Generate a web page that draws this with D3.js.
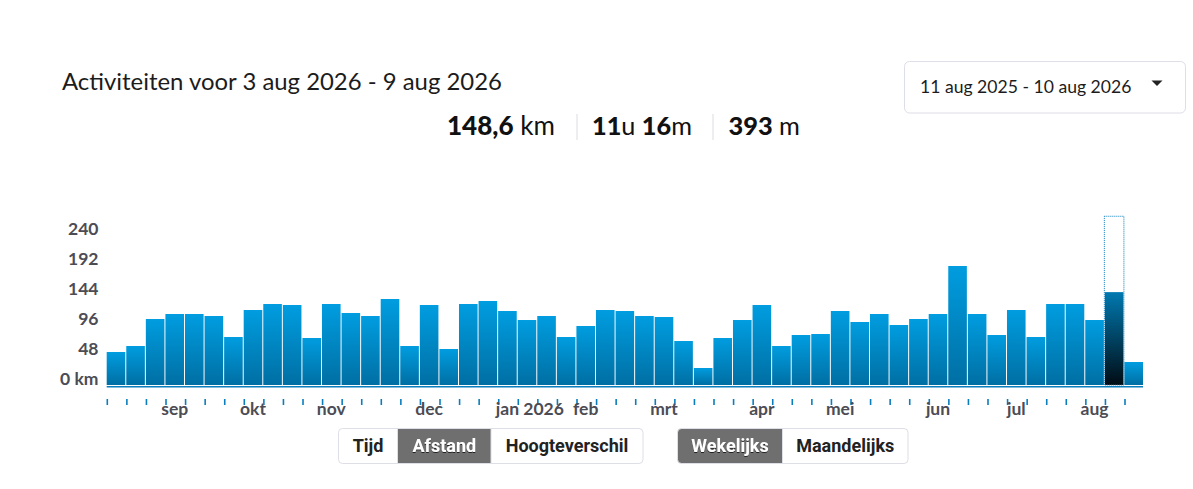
<!DOCTYPE html>
<html>
<head>
<meta charset="utf-8">
<script src="https://cdn.jsdelivr.net/npm/d3@7"></script>
<style>
  html, body { margin: 0; padding: 0; background: #fff; }
  svg { display: block; }
</style>
</head>
<body>
<script>
// weekly distance (km), week starting Mon 11 aug 2025 up to Mon 10 aug 2026
const weekStarts = d3.timeMonday.range(new Date(2025, 7, 11), new Date(2026, 7, 11));
const distances = [
    52.8, 62.4, 105.6, 113.6, 113.6, 110.4, 76.8, 120, 129.6, 128,
    75.2, 129.6, 115.2, 110.4, 137.6, 62.4, 128, 57.6, 129.6, 134.4,
    118.4, 104, 110.4, 76.8, 94.4, 120, 118.4, 110.4, 108.8, 70.4,
    27.2, 75.2, 104, 128, 62.4, 80, 81.6, 118.4, 100.8, 113.6,
    96, 105.6, 113.6, 190.4, 113.6, 80, 120, 76.8, 129.6, 129.6,
    104, 148.6, 36.8
];
const selectedWeek = 51; // 3 aug 2026 - 9 aug 2026

const yTicks = [0, 48, 96, 144, 192, 240];
const monthStarts = [
    new Date(2025, 8, 1), new Date(2025, 9, 1), new Date(2025, 10, 1), new Date(2025, 11, 1),
    new Date(2026, 0, 1), new Date(2026, 1, 1), new Date(2026, 2, 1), new Date(2026, 3, 1),
    new Date(2026, 4, 1), new Date(2026, 5, 1), new Date(2026, 6, 1), new Date(2026, 7, 1)
];
const monthLabels = ["sep", "okt", "nov", "dec", "jan 2026", "feb", "mrt", "apr", "mei", "jun", "jul", "aug"];

const statParts = [
    [["148,6", true], [" km", false]],
    [["11", true], ["u ", false], ["16", true], ["m", false]],
    [["393", true], [" m", false]]
];
const metricButtons = ["Tijd", "Afstand", "Hoogteverschil"];
const periodButtons = ["Wekelijks", "Maandelijks"];

const width = 1193, height = 489;

const svg = d3.select("body").append("svg")
    .attr("width", width)
    .attr("height", height);

const defs = svg.append("defs");

const barGrad = defs.append("linearGradient")
    .attr("id", "barGrad").attr("x1", 0).attr("y1", 0).attr("x2", 0).attr("y2", 1);
barGrad.append("stop").attr("offset", "0%").attr("stop-color", "#009de0");
barGrad.append("stop").attr("offset", "100%").attr("stop-color", "#006fa3");

const selGrad = defs.append("linearGradient")
    .attr("id", "selGrad").attr("x1", 0).attr("y1", 0).attr("x2", 0).attr("y2", 1);
selGrad.append("stop").attr("offset", "0%").attr("stop-color", "#0079b0");
selGrad.append("stop").attr("offset", "100%").attr("stop-color", "#000c14");

const shadow = defs.append("filter").attr("id", "txtShadow")
    .attr("x", "-10%").attr("y", "-20%").attr("width", "120%").attr("height", "150%");
shadow.append("feDropShadow")
    .attr("dx", 0).attr("dy", 1).attr("stdDeviation", 0.6)
    .attr("flood-color", "#000").attr("flood-opacity", 0.7);

// shrink / grow a text so it fills a given width
function fitWidth(sel, target) {
    const node = sel.node();
    const len = node.getComputedTextLength();
    const fs = parseFloat(sel.attr("font-size"));
    sel.attr("font-size", (fs * target / len).toFixed(2));
    return fs * target / len;
}

// ---- header ----
const title = svg.append("text")
    .attr("x", 62)
    .attr("y", 90)
    .attr("font-family", "Lato")
    .attr("font-size", 21)
    .attr("fill", "#1c1c1c")
    .text("Activiteiten voor 3 aug 2026 - 9 aug 2026");
fitWidth(title, 440);

const statX = [447, 592, 728.5];
const statW = [108, 100, 71.5];
statParts.forEach((parts, i) => {
    const t = svg.append("text")
        .attr("x", statX[i])
        .attr("y", 135)
        .attr("font-family", "Lato")
        .attr("font-size", 25)
        .attr("fill", "#111");
    parts.forEach(p => {
        t.append("tspan")
            .attr("font-weight", p[1] ? 900 : 400)
            .text(p[0]);
    });
    fitWidth(t, statW[i]);
});
[577, 713].forEach(sx => {
    svg.append("line")
        .attr("x1", sx).attr("x2", sx)
        .attr("y1", 114).attr("y2", 140)
        .attr("stroke", "#dcdce2")
        .attr("stroke-width", 1);
});

// date range dropdown
svg.append("rect")
    .attr("x", 904.5).attr("y", 61.5)
    .attr("width", 281).attr("height", 51.5)
    .attr("rx", 5)
    .attr("fill", "#fff")
    .attr("stroke", "#dedee6");
const ddText = svg.append("text")
    .attr("x", 920)
    .attr("y", 93)
    .attr("font-family", "Lato")
    .attr("font-size", 17)
    .attr("fill", "#1c1c1c")
    .text("11 aug 2025 - 10 aug 2026");
fitWidth(ddText, 211.5);
svg.append("path")
    .attr("d", "M1151.5,80.5 L1162.5,80.5 L1157,86 Z")
    .attr("fill", "#222");

// ---- chart ----
const x = d3.scaleBand()
    .domain(weekStarts)
    .range([106.7, 1143])
    .paddingInner(0.05)
    .paddingOuter(0);

const y = d3.scaleLinear()
    .domain([0, 240])
    .range([385, 235]);

const chartTop = 270; // height of the selection frame, in km

svg.append("g")
    .selectAll("rect")
    .data(distances)
    .join("rect")
    .attr("x", (d, i) => x(weekStarts[i]))
    .attr("y", d => y(d))
    .attr("width", x.bandwidth())
    .attr("height", d => y(0) - y(d))
    .attr("fill", (d, i) => i === selectedWeek ? "url(#selGrad)" : "url(#barGrad)");

// selection frame
svg.append("rect")
    .attr("x", x(weekStarts[selectedWeek]) - 0.5)
    .attr("y", y(chartTop))
    .attr("width", x.step())
    .attr("height", y(0) - y(chartTop))
    .attr("fill", "none")
    .attr("stroke", "#0a7dbd")
    .attr("stroke-width", 1)
    .attr("stroke-dasharray", "1,1");

// baseline
svg.append("line")
    .attr("x1", x.range()[0]).attr("x2", x.range()[1])
    .attr("y1", y(0) + 1.7).attr("y2", y(0) + 1.7)
    .attr("stroke", "#0a7dbd")
    .attr("stroke-width", 1.4);

// y axis labels
const yAxis = svg.append("g")
    .attr("transform", "translate(98.5,0)")
    .call(d3.axisLeft(y)
        .tickValues(yTicks)
        .tickSize(0)
        .tickPadding(0)
        .tickFormat(d => d === 0 ? "0 km" : d));
yAxis.select(".domain").remove();
yAxis.selectAll("text")
    .attr("dy", "-0.02em")
    .attr("font-family", "Lato")
    .attr("font-weight", 700)
    .attr("font-size", 17.5)
    .attr("fill", "#4c4c55");

// week ticks
svg.append("g")
    .selectAll("line")
    .data(weekStarts)
    .join("line")
    .attr("x1", d => x(d) + 0.6)
    .attr("x2", d => x(d) + 0.6)
    .attr("y1", 399)
    .attr("y2", 405)
    .attr("stroke", "#0a7dbd")
    .attr("stroke-width", 1.6);

// month labels, centred on the week that holds the 1st of the month
const monthG = svg.append("g");
monthStarts.forEach((m, i) => {
    const cx = x(d3.timeMonday.floor(m)) + x.bandwidth() / 2;
    const label = monthLabels[i];
    const t = monthG.append("text")
        .attr("y", 415)
        .attr("font-family", "Lato")
        .attr("font-weight", 700)
        .attr("font-size", 17.5)
        .attr("fill", "#4c4c55")
        .text(label.split(" ")[0]);
    if (label.includes(" ")) {
        // keep the month word on its week, the year runs on to the right
        const w = t.node().getComputedTextLength();
        t.attr("x", cx - w / 2).attr("text-anchor", "start").text(label);
    } else {
        t.attr("x", cx).attr("text-anchor", "middle");
    }
});

// ---- toggle buttons ----
function buttonGroup(labels, edges, active, id, fontSize) {
    const g = svg.append("g");
    const x0 = edges[0], x1 = edges[edges.length - 1];
    const top = 428.5, h = 35;
    defs.append("clipPath").attr("id", id)
        .append("rect")
        .attr("x", x0).attr("y", top)
        .attr("width", x1 - x0).attr("height", h)
        .attr("rx", 4);
    const inner = g.append("g").attr("clip-path", `url(#${id})`);
    labels.forEach((lab, i) => {
        inner.append("rect")
            .attr("x", edges[i]).attr("y", top)
            .attr("width", edges[i + 1] - edges[i]).attr("height", h)
            .attr("fill", i === active ? "#6f6f6f" : "#fff");
        if (i > 0) {
            inner.append("line")
                .attr("x1", edges[i]).attr("x2", edges[i])
                .attr("y1", top).attr("y2", top + h)
                .attr("stroke", "#dedee6");
        }
    });
    g.append("rect")
        .attr("x", x0).attr("y", top)
        .attr("width", x1 - x0).attr("height", h)
        .attr("rx", 4)
        .attr("fill", "none")
        .attr("stroke", "#dedee6");
    labels.forEach((lab, i) => {
        g.append("text")
            .attr("x", (edges[i] + edges[i + 1]) / 2)
            .attr("y", 452)
            .attr("text-anchor", "middle")
            .attr("font-family", "Roboto")
            .attr("font-weight", 700)
            .attr("font-size", fontSize)
            .attr("fill", i === active ? "#fff" : "#222")
            .attr("filter", i === active ? "url(#txtShadow)" : null)
            .text(lab);
    });
}
buttonGroup(metricButtons, [338.5, 397.5, 491, 643], 1, "clipMetric", 18);
buttonGroup(periodButtons, [677.5, 782.5, 908], 0, "clipPeriod", 18);
</script>
</body>
</html>
